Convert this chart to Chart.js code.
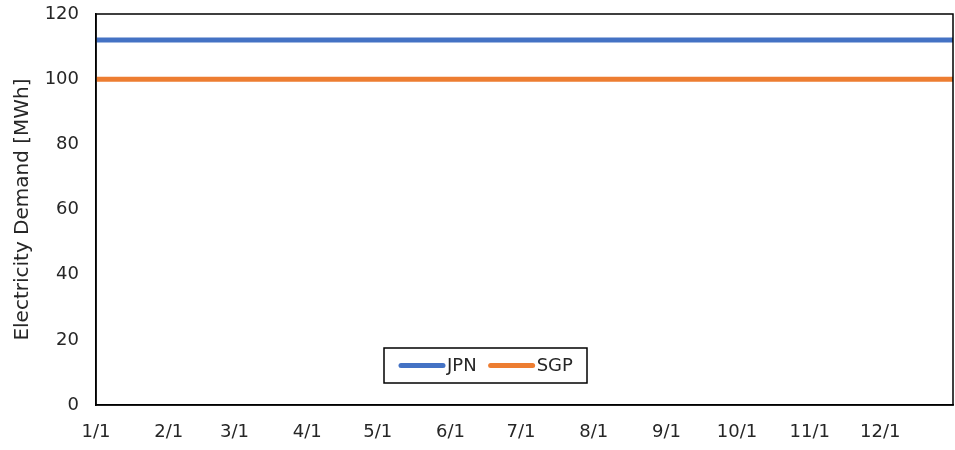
<!DOCTYPE html>
<html>
<head>
<meta charset="utf-8">
<script src="https://cdn.jsdelivr.net/npm/chart.js@4"></script>
<style>
html,body{margin:0;padding:0;background:#fff;}
#wrap{width:955px;height:450px;position:relative;}
</style>
</head>
<body>
<div id="wrap"><canvas id="c" width="955" height="450"></canvas></div>
<script>
// Data
const monthStartDays = [0, 31, 59, 90, 120, 151, 181, 212, 243, 273, 304, 334];
const monthLabels = ["1/1","2/1","3/1","4/1","5/1","6/1","7/1","8/1","9/1","10/1","11/1","12/1"];
const dayPoints = [0, 365];
const jpnValues = [112, 112];
const sgpValues = [100, 100];
const yTicks = [0, 20, 40, 60, 80, 100, 120];
const seriesNames = ["JPN", "SGP"];

const FONT = "'DejaVu Sans', sans-serif";
const colors = ["#4472C4", "#ED7D31"];
const TEXT = '#262626';

const toXY = (xs, ys) => xs.map((x, i) => ({x: x, y: ys[i]}));

const frameAndLegend = {
  id: 'frameAndLegend',
  afterDraw(chart) {
    const ctx = chart.ctx;
    const a = chart.chartArea;
    ctx.save();
    ctx.strokeStyle = '#000';
    ctx.lineWidth = 1.5;
    ctx.strokeRect(a.left, a.top, a.right - a.left, a.bottom - a.top);
    // legend box
    const bx = 384, by = 348, bw = 203, bh = 35;
    ctx.fillStyle = '#fff';
    ctx.fillRect(bx, by, bw, bh);
    ctx.lineWidth = 1.5;
    ctx.strokeStyle = '#000';
    ctx.strokeRect(bx, by, bw, bh);
    ctx.font = "18px " + FONT;
    ctx.textBaseline = 'middle';
    ctx.fillStyle = TEXT;
    let x = bx + 17;
    const cy = by + bh / 2;
    chart.data.datasets.forEach((ds, i) => {
      ctx.strokeStyle = ds.borderColor;
      ctx.lineWidth = 5;
      ctx.lineCap = 'round';
      ctx.beginPath();
      ctx.moveTo(x, cy);
      ctx.lineTo(x + 42, cy);
      ctx.stroke();
      ctx.fillText(ds.label, x + 46, cy + 1);
      x += 46 + ctx.measureText(ds.label).width + 14;
    });
    ctx.restore();
  }
};

new Chart(document.getElementById('c'), {
  type: 'line',
  data: {
    datasets: [
      {label: seriesNames[0], data: toXY(dayPoints, jpnValues), borderColor: colors[0], backgroundColor: colors[0], borderWidth: 5, pointRadius: 0, tension: 0},
      {label: seriesNames[1], data: toXY(dayPoints, sgpValues), borderColor: colors[1], backgroundColor: colors[1], borderWidth: 5, pointRadius: 0, tension: 0}
    ]
  },
  options: {
    responsive: false,
    animation: false,
    layout: {padding: {left: 11, right: 2, top: 14, bottom: 0}},
    plugins: {legend: {display: false}, tooltip: {enabled: false}},
    scales: {
      x: {
        type: 'linear', min: 0, max: 365,
        grid: {display: false, drawTicks: false},
        border: {display: true, color: '#000', width: 1.5},
        afterBuildTicks: (s) => { s.ticks = monthStartDays.map(v => ({value: v})); },
        afterFit: (s) => { s.height = 45; s.paddingLeft = 0; s.paddingRight = 0; },
        ticks: {
          autoSkip: false, maxRotation: 0, padding: 17,
          color: TEXT, font: {family: FONT, size: 18},
          callback: (v) => { const i = monthStartDays.indexOf(v); return i >= 0 ? monthLabels[i] : ''; }
        }
      },
      y: {
        min: 0, max: 120,
        grid: {display: false, drawTicks: false},
        border: {display: true, color: '#000', width: 1.5},
        afterBuildTicks: (s) => { s.ticks = yTicks.map(v => ({value: v})); },
        afterFit: (s) => { s.width = 85; s.paddingTop = 0; s.paddingBottom = 0; },
        ticks: {padding: 17, color: TEXT, font: {family: FONT, size: 18}},
        title: {display: true, text: 'Electricity Demand [MWh]', color: TEXT, font: {family: FONT, size: 20}, padding: {top: 0, bottom: 4}}
      }
    }
  },
  plugins: [frameAndLegend]
});
</script>
</body>
</html>
